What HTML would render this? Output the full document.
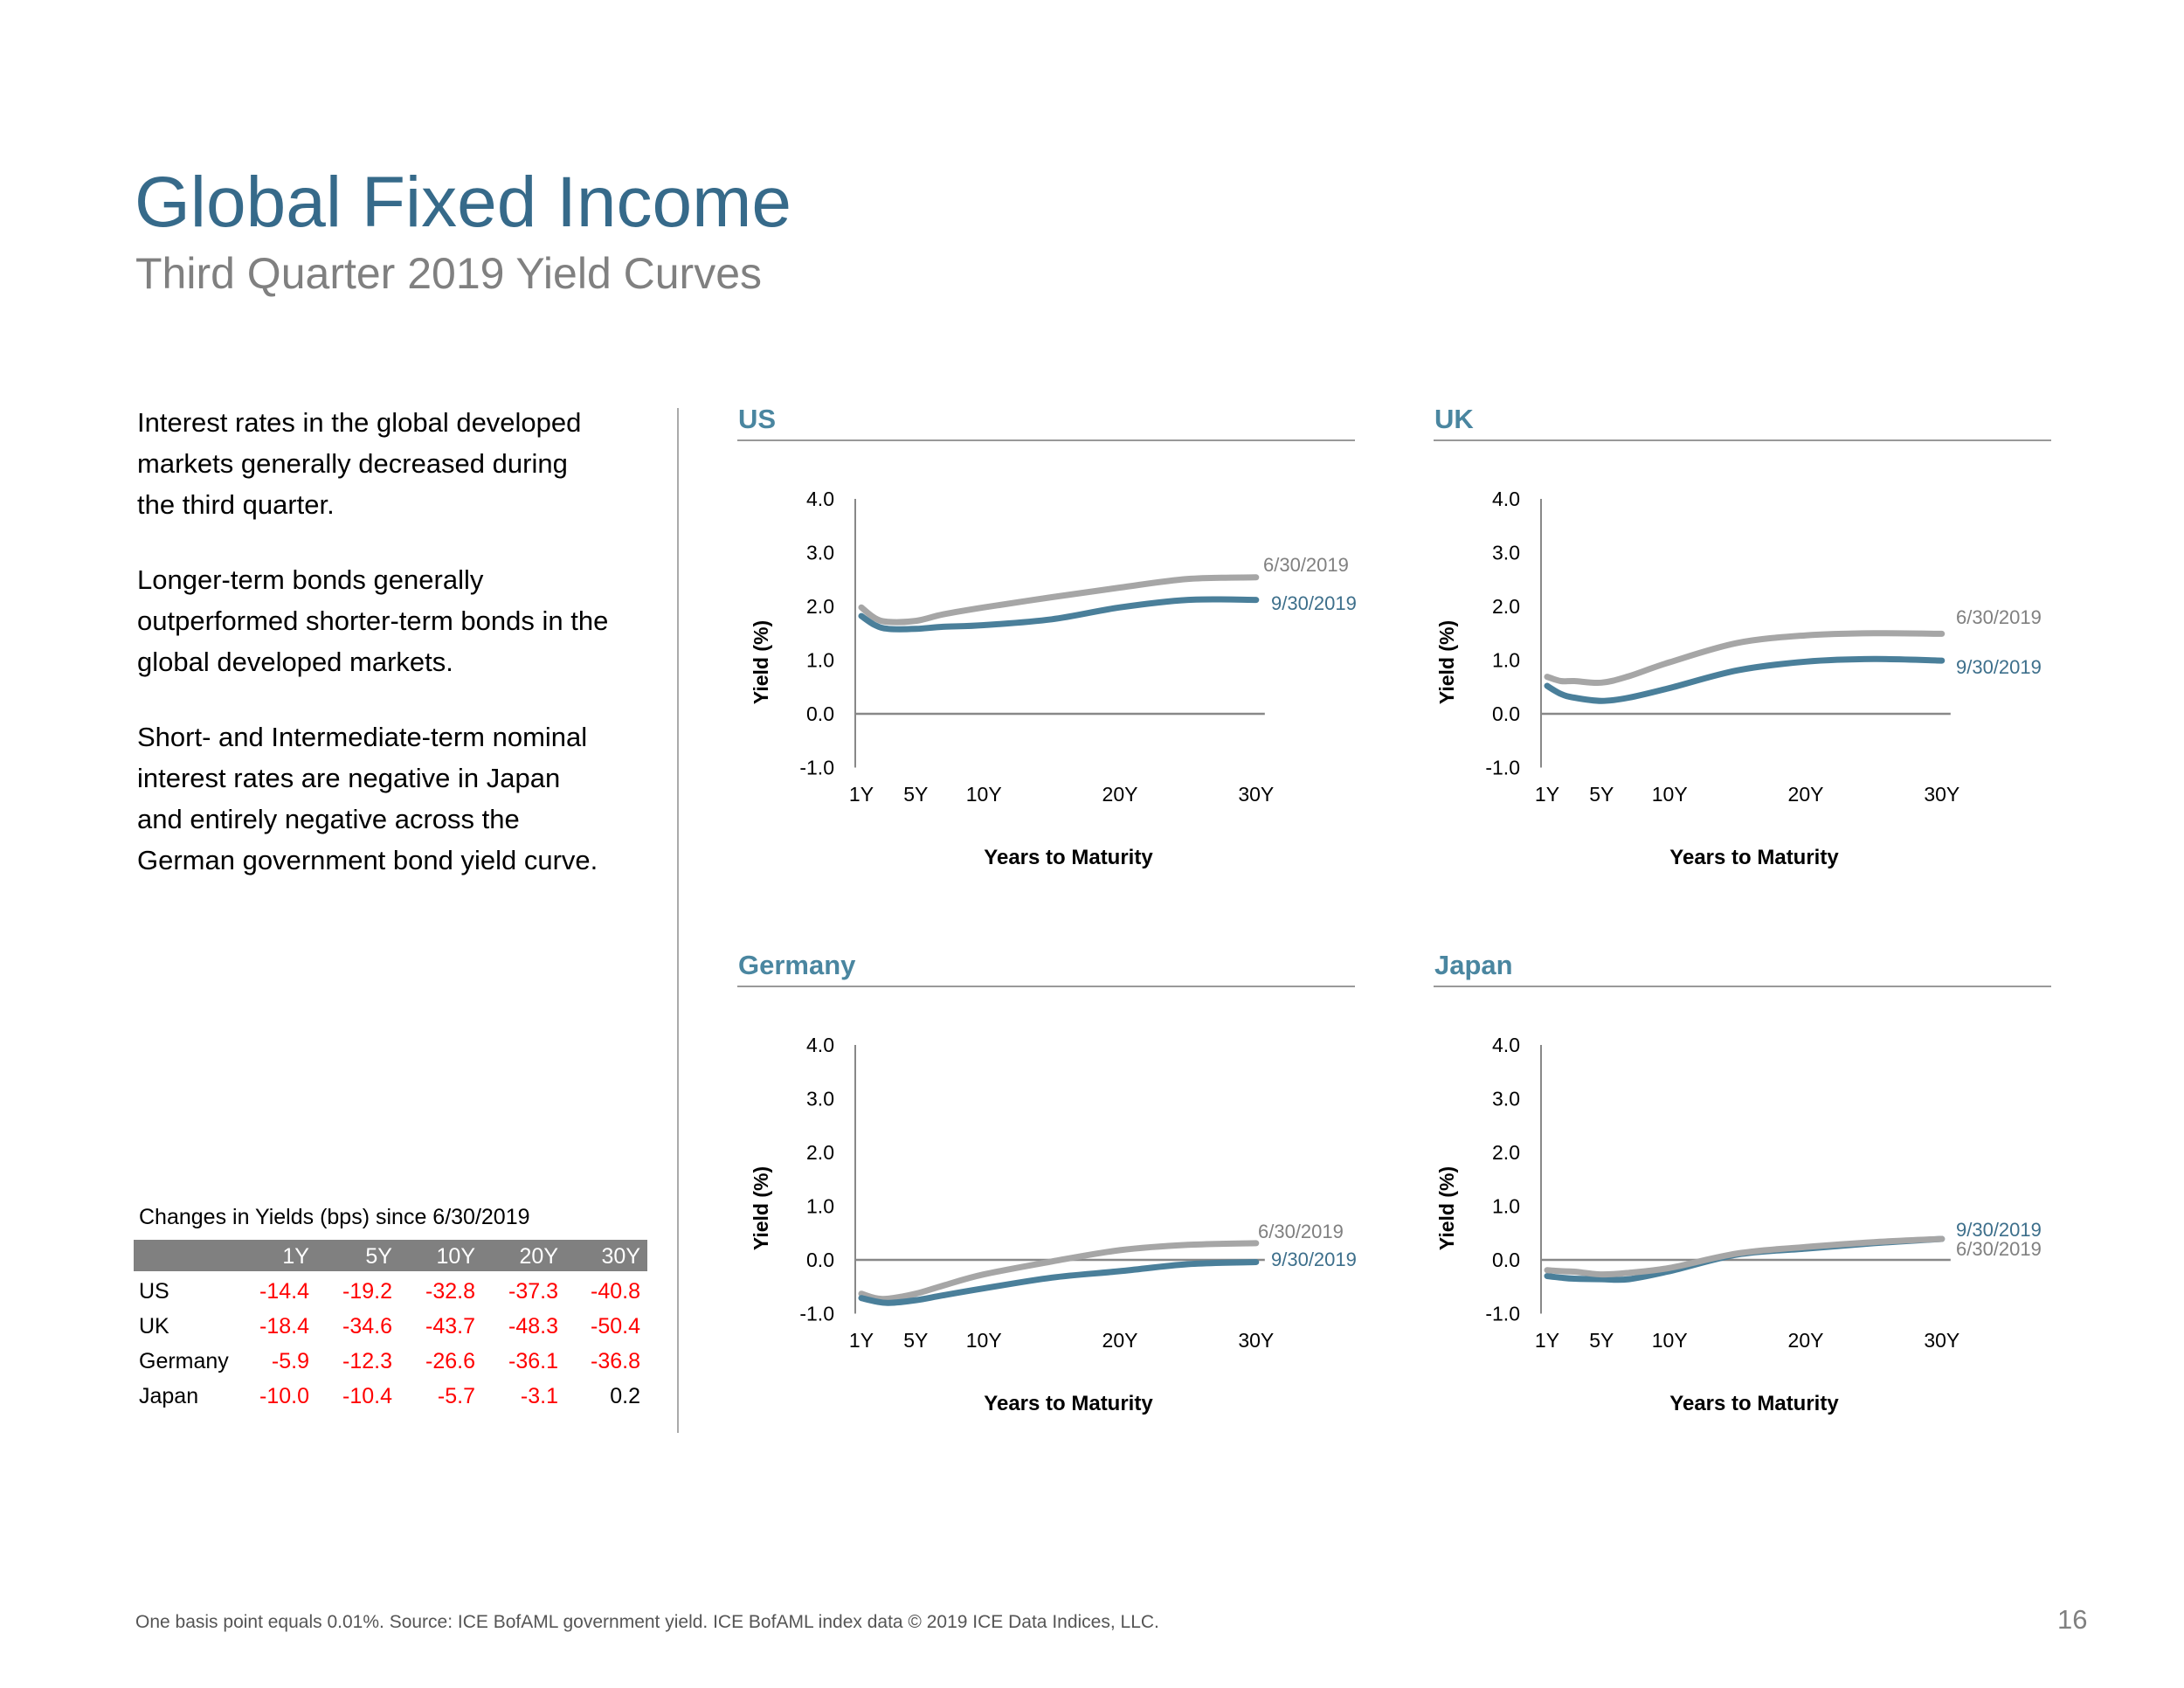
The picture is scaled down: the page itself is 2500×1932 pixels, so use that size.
<!DOCTYPE html>
<html><head><meta charset="utf-8">
<style>
html,body{margin:0;padding:0;background:#fff;}
body{width:2500px;height:1932px;position:relative;overflow:hidden;font-family:"Liberation Sans",Arial,sans-serif;}
.abs{position:absolute;white-space:nowrap;}
</style></head>
<body>
<div class="abs" style="left:154px;top:182px;font-size:82px;line-height:100px;color:#366a8a;">Global Fixed Income</div>
<div class="abs" style="left:155px;top:283px;font-size:50px;line-height:60px;color:#808080;">Third Quarter 2019 Yield Curves</div>
<div class="abs" style="left:157px;top:460px;font-size:31px;line-height:47px;color:#000;">
<div>Interest rates in the global developed<br>markets generally decreased during<br>the third quarter.</div>
<div style="margin-top:39px">Longer-term bonds generally<br>outperformed shorter-term bonds in the<br>global developed markets.</div>
<div style="margin-top:39px">Short- and Intermediate-term nominal<br>interest rates are negative in Japan<br>and entirely negative across the<br>German government bond yield curve.</div>
</div>
<div class="abs" style="left:155px;top:1845px;font-size:21px;color:#555;">One basis point equals 0.01%. Source: ICE BofAML government yield. ICE BofAML index data © 2019 ICE Data Indices, LLC.</div>
<div class="abs" style="left:2355px;top:1836px;font-size:31px;color:#808080;">16</div>

<svg id="svg" width="2500" height="1932" style="position:absolute;left:0;top:0" xmlns="http://www.w3.org/2000/svg" font-family="Liberation Sans, Arial, sans-serif"></svg>

<script>
const maturities = [1,2,3,5,7,10,15,20,25,30];
const xTickLabels = ["1Y","5Y","10Y","20Y","30Y"];
const xTickYears = [1,5,10,20,30];
const yTicks = [4,3,2,1,0,-1];
const usJun = [1.98,1.78,1.71,1.73,1.85,1.98,2.17,2.35,2.51,2.54];
const usSep = [1.82,1.65,1.58,1.58,1.62,1.65,1.76,1.98,2.12,2.12];
const ukJun = [0.69,0.61,0.61,0.58,0.70,0.96,1.32,1.46,1.50,1.49];
const ukSep = [0.52,0.37,0.30,0.24,0.30,0.48,0.81,0.97,1.02,0.99];
const deJun = [-0.63,-0.71,-0.72,-0.63,-0.48,-0.27,-0.03,0.18,0.28,0.31];
const deSep = [-0.71,-0.77,-0.80,-0.75,-0.66,-0.53,-0.33,-0.21,-0.08,-0.04];
const jpJun = [-0.19,-0.21,-0.22,-0.27,-0.24,-0.15,0.12,0.24,0.33,0.39];
const jpSep = [-0.30,-0.33,-0.35,-0.36,-0.36,-0.21,0.10,0.21,0.31,0.39];
const tableCols = ["1Y","5Y","10Y","20Y","30Y"];
const tableRows = ["US","UK","Germany","Japan"];
const usChg = [-14.4,-19.2,-32.8,-37.3,-40.8];
const ukChg = [-18.4,-34.6,-43.7,-48.3,-50.4];
const deChg = [-5.9,-12.3,-26.6,-36.1,-36.8];
const jpChg = [-10.0,-10.4,-5.7,-3.1,0.2];

const NS="http://www.w3.org/2000/svg";
const svg=document.getElementById('svg');
function mk(tag,attrs,parent,text){const e=document.createElementNS(NS,tag);for(const k in attrs)e.setAttribute(k,attrs[k]);if(text!==undefined)e.textContent=text;(parent||svg).appendChild(e);return e;}

function smoothPath(pts){
  let d="M"+pts[0][0].toFixed(1)+","+pts[0][1].toFixed(1);
  for(let i=0;i<pts.length-1;i++){
    const p0=pts[i-1]||pts[i],p1=pts[i],p2=pts[i+1],p3=pts[i+2]||p2;
    const c1=[p1[0]+(p2[0]-p0[0])/6,p1[1]+(p2[1]-p0[1])/6];
    const c2=[p2[0]-(p3[0]-p1[0])/6,p2[1]-(p3[1]-p1[1])/6];
    d+=" C"+c1[0].toFixed(1)+","+c1[1].toFixed(1)+" "+c2[0].toFixed(1)+","+c2[1].toFixed(1)+" "+p2[0].toFixed(1)+","+p2[1].toFixed(1);
  }
  return d;
}

function chart(cfg){
  const g=mk('g',{});
  
  
  const ax=cfg.axisX, zeroY=cfg.zeroY, unit=61.5, step=15.58, x1=ax+7;
  const xs=yr=>x1+(yr-1)*step;
  const ys=v=>zeroY-v*unit;
  const t=mk('text',{x:cfg.hx,y:cfg.hy,'font-size':31,'font-weight':'bold',fill:'#4a86a0'},g,cfg.title);
  
  
  const r=mk('line',{x1:cfg.hx-1,x2:cfg.hx+706,y1:cfg.hy+14,y2:cfg.hy+14,stroke:'#999',"stroke-width":2},g);
  
  
  yTicks.forEach(v=>{
    const tl=mk('text',{x:ax-24,y:ys(v)+8,'font-size':23,'text-anchor':'end',fill:'#000'},g,v.toFixed(1));
    
    
  });
  xTickLabels.forEach((lab,i)=>{
    const tl=mk('text',{x:xs(xTickYears[i]),y:zeroY+100,'font-size':23,'text-anchor':'middle',fill:'#000'},g,lab);
    
    
  });
  const ya=mk('line',{x1:ax,x2:ax,y1:ys(4),y2:ys(-1),stroke:'#888','stroke-width':2},g);
  
  
  const za=mk('line',{x1:ax,x2:xs(30)+10,y1:ys(0),y2:ys(0),stroke:'#888','stroke-width':2.5},g);
  
  
  const yl=mk('text',{transform:`translate(${ax-100},${zeroY-59}) rotate(-90)`,'font-size':23,'font-weight':'bold','text-anchor':'middle',fill:'#000'},g,'Yield (%)');
  
  
  const xl=mk('text',{x:ax+244,y:zeroY+172,'font-size':24,'font-weight':'bold','text-anchor':'middle',fill:'#000'},g,'Years to Maturity');
  
  
  const drawOrder = cfg.blueFirst ? [['sep',cfg.sep,'#4a7f9a'],['jun',cfg.jun,'#a6a6a6']] : [['jun',cfg.jun,'#a6a6a6'],['sep',cfg.sep,'#4a7f9a']];
  drawOrder.forEach(([k,vals,col])=>{
    const pts=maturities.map((m,i)=>[xs(m),ys(vals[i])]);
    const p=mk('path',{d:smoothPath(pts),fill:'none',stroke:col,'stroke-width':7,'stroke-linecap':'round','stroke-linejoin':'round'},g);
    
    
  });
  const lj=mk('text',{x:cfg.ljx,y:cfg.ljy+8,'font-size':22,fill:'#808080'},g,'6/30/2019');
  
  
  const ls=mk('text',{x:cfg.lsx,y:cfg.lsy+8,'font-size':22,fill:'#3d6f8b'},g,'9/30/2019');
  
  
}

chart({name:'us',title:'US',hx:845,hy:490,axisX:979,zeroY:817,jun:usJun,sep:usSep,ljx:1446,ljy:646,lsx:1455,lsy:690});
chart({name:'uk',title:'UK',hx:1642,hy:490,axisX:1764,zeroY:817,jun:ukJun,sep:ukSep,ljx:2239,ljy:706,lsx:2239,lsy:763});
chart({name:'germany',title:'Germany',hx:845,hy:1115,axisX:979,zeroY:1442,jun:deJun,sep:deSep,ljx:1440,ljy:1409,lsx:1455,lsy:1441});
chart({name:'japan',title:'Japan',hx:1642,hy:1115,axisX:1764,zeroY:1442,jun:jpJun,sep:jpSep,blueFirst:true,ljx:2239,ljy:1429,lsx:2239,lsy:1407});

const dv=mk('line',{x1:776,x2:776,y1:467,y2:1640,stroke:'#aaa','stroke-width':2});



const tg=mk('g',{});


const tt=mk('text',{x:159,y:1401,'font-size':25,fill:'#000'},tg,'Changes in Yields (bps) since 6/30/2019');


const band=mk('rect',{x:153,y:1419,width:588,height:36,fill:'#808080'},tg);


const colRight=[354,449,544,639,733];
tableCols.forEach((c,i)=>{
  const h=mk('text',{x:colRight[i],y:1446,'font-size':25,'text-anchor':'end',fill:'#fff'},tg,c);
  
  
});
const rowsData=[usChg,ukChg,deChg,jpChg];
tableRows.forEach((rn,r)=>{
  const y=1486+r*40;
  const l=mk('text',{x:159,y:y,'font-size':25,fill:'#000'},tg,rn);
  
  
  rowsData[r].forEach((v,i)=>{
    const c=mk('text',{x:colRight[i],y:y,'font-size':25,'text-anchor':'end',fill:v<0?'#ff0000':'#000'},tg,v.toFixed(1));
    
    
  });
});
</script>
</body></html>
